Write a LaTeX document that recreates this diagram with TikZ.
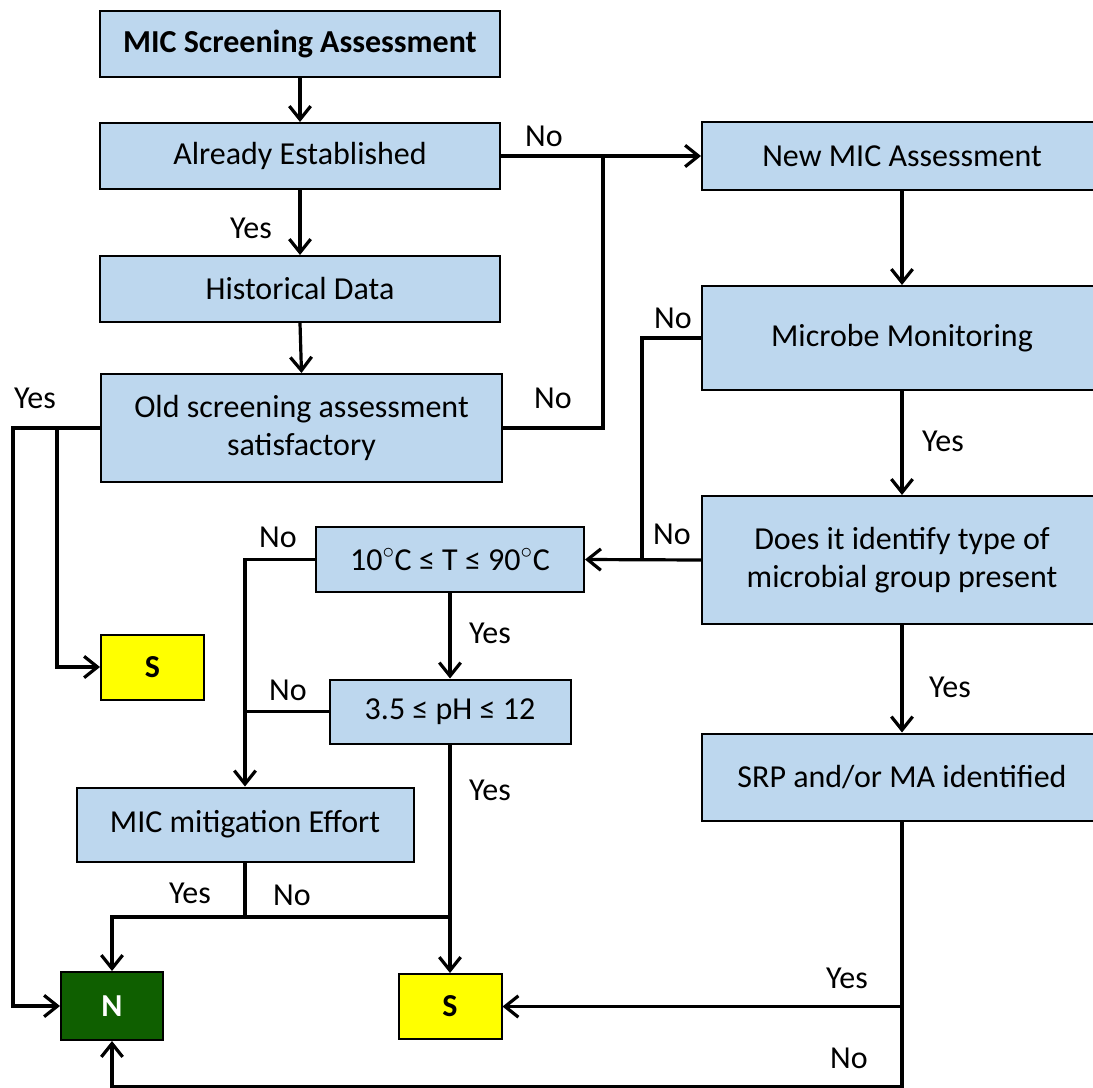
\documentclass[tikz,border=0pt]{standalone}
\usepackage{fontspec}
\setmainfont{Carlito}
\usetikzlibrary{arrows.meta}
\definecolor{boxblue}{RGB}{189,215,238}
\definecolor{darkgreen}{RGB}{15,95,0}
\definecolor{yel}{RGB}{255,255,0}
\begin{document}
\begin{tikzpicture}[x=0.75pt,y=-0.75pt,
  font=\fontsize{24}{28.5}\selectfont,
  box/.style={draw=black,line width=1.5pt,fill=boxblue,align=center,inner sep=0pt},
  ybox/.style={draw=black,line width=1.5pt,fill=yel,inner sep=0pt,font=\fontsize{24}{28.5}\selectfont\bfseries,minimum width=103*0.75pt,minimum height=65*0.75pt},
  gbox/.style={draw=black,line width=1.5pt,fill=darkgreen,text=white,inner sep=0pt,font=\fontsize{24}{28.5}\selectfont\bfseries,minimum width=102*0.75pt,minimum height=68*0.75pt},
  conn/.style={line width=2.4pt},
  arr/.style={conn,-{Straight Barb[length=10pt,width=16pt,line width=2.4pt]}},
  lbl/.style={inner sep=0pt}
]
\useasboundingbox (0,0) rectangle (1093,1088);
% left column
\node[box,minimum width=400*0.75pt,minimum height=66*0.75pt,font=\fontsize{24}{28.5}\selectfont\bfseries] (b1) at (300,44) {MIC Screening Assessment};
\node[box,minimum width=400*0.75pt,minimum height=66*0.75pt] (b2) at (300,156) {Already Established};
\node[box,minimum width=400*0.75pt,minimum height=66*0.75pt] (b3) at (300,289) {Historical Data};
\node[box,minimum width=401*0.75pt,minimum height=108*0.75pt] (b4) at (301.5,428) {Old screening assessment\\satisfactory};
% right column
\node[box,minimum width=400*0.75pt,minimum height=68*0.75pt] (nw) at (902,156) {New MIC Assessment};
\node[box,minimum width=400*0.75pt,minimum height=104*0.75pt] (mm) at (902,338) {Microbe Monitoring};
\node[box,minimum width=400*0.75pt,minimum height=128*0.75pt] (dz) at (902,560) {Does it identify type of\\microbial group present};
\node[box,minimum width=400*0.75pt,minimum height=87*0.75pt] (srp) at (902,777) {SRP and/or MA identified};
% middle
\node[box,minimum width=268*0.75pt,minimum height=65*0.75pt] (tb) at (450,559.5) {10$^\circ$C ≤ T ≤ 90$^\circ$C};
\node[box,minimum width=241*0.75pt,minimum height=64*0.75pt] (ph) at (450,711.5) {3.5 ≤ pH ≤ 12};
\node[box,minimum width=337*0.75pt,minimum height=74*0.75pt] (mit) at (245,824.5) {MIC mitigation Effort};
% terminals
\node[ybox] (s1) at (152.5,667) {S};
\node[gbox] (nb) at (112,1006) {N};
\node[ybox] (s2) at (450,1006.5) {S};
% coordinates
\coordinate (j1) at (603,156);
\coordinate (j2) at (642,338);
\coordinate (j3) at (244,711.5);
\coordinate (j4) at (245,917);
\coordinate (j5) at (450,917);
\coordinate (j6) at (902,1006.5);
\coordinate (j7) at (902,1087);
\coordinate (j8) at (13,428);
\coordinate (j9) at (57,428);
% connectors
\draw[arr] (b1.south) -- (b2.north);
\draw[arr] (b2.south) -- (b3.north);
\draw[arr] (b3.south) -- (b4.north);
\draw[arr] (b2.east) -- (nw.west);
\draw[conn] (b4.east) -| (j1);
\draw[arr] (nw.south) -- (mm.north);
\draw[arr] (mm.south) -- (dz.north);
\draw[arr] (dz.south) -- (srp.north);
\draw[arr] (dz.west) -- (tb.east);
\draw[conn] (mm.west) -- (j2) -- (j2 |- tb.east);
\draw[arr] (tb.west) -| (mit.north);
\draw[conn] (ph.west) -- (j3);
\draw[arr] (tb.south) -- (ph.north);
\draw[arr] (ph.south) -- (s2.north);
\draw[arr] (mit.south) -- (j4) -| (nb.north);
\draw[conn] (j4) -- (j5);
\draw[arr] (srp.south) -- (j6) -- (s2.east);
\draw[arr] (j6) -- (j7) -| (nb.south);
\draw[arr] (b4.west) -- (j8) |- (nb.west);
\draw[arr] (j9) |- (s1.west);
% labels
\node[lbl] (l1) at (251,228) {Yes};
\node[lbl] (l2) at (544,136) {No};
\node[lbl] (l3) at (553,398) {No};
\node[lbl] (l4) at (35,398) {Yes};
\node[lbl] (l5) at (673,318) {No};
\node[lbl] (l6) at (943,441) {Yes};
\node[lbl] (l7) at (672,534) {No};
\node[lbl] (l8) at (278,537) {No};
\node[lbl] (l9) at (490,633) {Yes};
\node[lbl] (l10) at (288,690) {No};
\node[lbl] (l11) at (950,687) {Yes};
\node[lbl] (l12) at (490,790) {Yes};
\node[lbl] (l13) at (190,893) {Yes};
\node[lbl] (l14) at (292,895) {No};
\node[lbl] (l15) at (847,978) {Yes};
\node[lbl] (l16) at (849,1058) {No};
\end{tikzpicture}
\end{document}
